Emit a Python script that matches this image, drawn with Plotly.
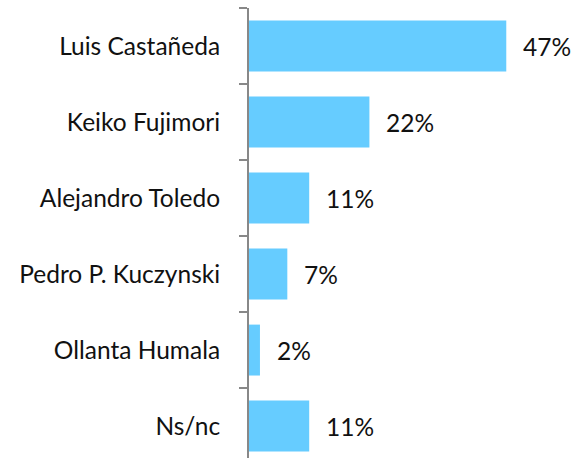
import plotly.graph_objects as go

candidates = ["Luis Castañeda", "Keiko Fujimori", "Alejandro Toledo",
              "Pedro P. Kuczynski", "Ollanta Humala", "Ns/nc"]
shares = [47, 22, 11, 7, 2, 11]

FONT = dict(family="Lato", size=24.5, color="#111111")

fig = go.Figure()
fig.add_trace(go.Bar(
    x=shares,
    y=candidates,
    orientation="h",
    marker=dict(color="#66CCFF", line=dict(width=0)),
    hoverinfo="skip",
))

for name, v in zip(candidates, shares):
    fig.add_annotation(
        x=v, y=name, text=f"{v}%", showarrow=False,
        xanchor="left", xshift=15,
        font=FONT,
    )

fig.update_layout(
    width=584, height=458,
    margin=dict(l=249, r=0, t=8, b=0),
    paper_bgcolor="white", plot_bgcolor="white",
    bargap=0.33,
    showlegend=False,
    font=FONT,
)
fig.update_xaxes(range=[0, 61.2], visible=False)
fig.update_yaxes(
    type="category",
    range=[5.42, -0.5],
    showline=True, linecolor="#888888", linewidth=2,
    ticks="outside", tickson="boundaries", ticklen=8,
    tickcolor="#888888", tickwidth=2,
    showgrid=False, zeroline=False,
    ticklabelstandoff=22,
)

fig.write_html("out.html")
